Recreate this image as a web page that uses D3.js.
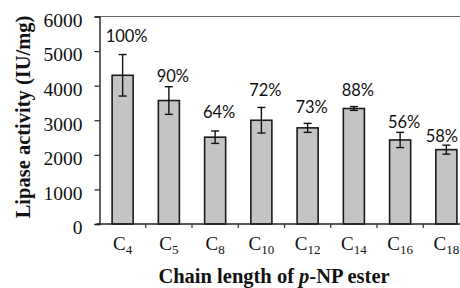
<!DOCTYPE html>
<html>
<head>
<meta charset="utf-8">
<script src="https://cdn.jsdelivr.net/npm/d3@7"></script>
<style>
  body { margin: 0; background: #fff; overflow: hidden; }
  svg { display: block; }
</style>
</head>
<body>
<div id="chart"></div>
<script>
// chain lengths of p-NP esters (carbon count for subscript)
const chains = ["4", "5", "8", "10", "12", "14", "16", "18"];
// lipase activity (IU/mg) and error
const activity = [4300, 3570, 2510, 3000, 2780, 3340, 2430, 2150];
const errors = [600, 400, 180, 370, 130, 55, 220, 130];
// relative activity labels and the level (IU/mg) they sit at
const relLabels = ["100%", "90%", "64%", "72%", "73%", "88%", "56%", "58%"];
const relLabelAt = [5260, 4110, 3060, 3710, 3200, 3690, 2770, 2370];
const yTicks = [0, 1000, 2000, 3000, 4000, 5000, 6000];

let W = 460, H = 288;
let margin = {top: 16.5, left: 99.5};
let plotW = 370, plotH = 207.5;

const svg = d3.select("#chart").append("svg")
    .attr("width", W)
    .attr("height", H);

const g = svg.append("g")
    .attr("transform", "translate(" + margin.left + "," + margin.top + ")");

// x: one band per chain length
let x = d3.scaleBand()
    .domain(chains)
    .range([0, plotW])
    .paddingInner(0.545)
    .paddingOuter(0.2725);

let y = d3.scaleLinear()
    .domain([0, 6000])
    .range([plotH, 0]);

// plot frame (top / right), grey
g.append("path")
    .attr("d", "M0,0H" + plotW + "V" + plotH)
    .attr("fill", "none")
    .attr("stroke", "#6a6a6a")
    .attr("stroke-width", 1.2);

// bars
g.selectAll(".bar")
    .data(activity)
    .enter().append("rect")
    .attr("class", "bar")
    .attr("x", (d, i) => x(chains[i]))
    .attr("y", d => y(d))
    .attr("width", x.bandwidth())
    .attr("height", d => y(0) - y(d))
    .attr("fill", "#c4c4c4")
    .attr("stroke", "#1a1a1a")
    .attr("stroke-width", 1.6);

// error bars
const capW = 4;
const eb = g.selectAll(".err")
    .data(activity)
    .enter().append("g")
    .attr("class", "err")
    .attr("stroke", "#111")
    .attr("stroke-width", 1.4);

eb.append("line")
    .attr("x1", (d, i) => x(chains[i]) + x.bandwidth() / 2)
    .attr("x2", (d, i) => x(chains[i]) + x.bandwidth() / 2)
    .attr("y1", (d, i) => y(d + errors[i]))
    .attr("y2", (d, i) => y(d - errors[i]));

eb.append("line")
    .attr("x1", (d, i) => x(chains[i]) + x.bandwidth() / 2 - capW)
    .attr("x2", (d, i) => x(chains[i]) + x.bandwidth() / 2 + capW)
    .attr("y1", (d, i) => y(d + errors[i]))
    .attr("y2", (d, i) => y(d + errors[i]));

eb.append("line")
    .attr("x1", (d, i) => x(chains[i]) + x.bandwidth() / 2 - capW)
    .attr("x2", (d, i) => x(chains[i]) + x.bandwidth() / 2 + capW)
    .attr("y1", (d, i) => y(d - errors[i]))
    .attr("y2", (d, i) => y(d - errors[i]));

// percentage labels (kept inside the visible window)
g.selectAll(".rel")
    .data(relLabels)
    .enter().append("text")
    .attr("class", "rel")
    .attr("y", (d, i) => y(relLabelAt[i]))
    .attr("text-anchor", "middle")
    .attr("font-family", "Lato, 'Open Sans', sans-serif")
    .attr("font-size", 16.5)
    .attr("fill", "#111")
    .text(d => d)
    .attr("x", function(d, i) {
      let cx = x(chains[i]) + x.bandwidth() / 2 + 4;
      let half = this.getComputedTextLength() / 2;
      return Math.min(cx, W - margin.left - half - 2);
    });

// y axis
const yAxis = g.append("g")
    .call(d3.axisLeft(y).tickValues(yTicks).tickSize(5).tickPadding(12).tickFormat(d3.format("d")));
yAxis.select(".domain").attr("stroke", "#222").attr("stroke-width", 1.4);
yAxis.selectAll(".tick line").attr("stroke", "#222").attr("stroke-width", 1.2);
yAxis.selectAll(".tick text")
    .attr("font-family", "'Liberation Serif', 'Times New Roman', serif")
    .attr("font-size", 19.5)
    .attr("fill", "#111")
    .attr("dy", "0.5em");

// x axis baseline + ticks between categories
const bounds = chains.slice(1).map(c => x(c) - x.step() * x.paddingInner() / 2);
g.append("line")
    .attr("x1", -3).attr("x2", plotW)
    .attr("y1", plotH).attr("y2", plotH)
    .attr("stroke", "#222")
    .attr("stroke-width", 1.4);
g.selectAll(".xtick")
    .data(bounds)
    .enter().append("line")
    .attr("class", "xtick")
    .attr("x1", d => d).attr("x2", d => d)
    .attr("y1", plotH).attr("y2", plotH + 4)
    .attr("stroke", "#333")
    .attr("stroke-width", 1.2);

// category labels C with subscript
const cl = g.selectAll(".cat")
    .data(chains)
    .enter().append("text")
    .attr("class", "cat")
    .attr("x", d => x(d) + x.bandwidth() / 2)
    .attr("y", plotH + 26)
    .attr("text-anchor", "middle")
    .attr("font-family", "'Liberation Serif', 'Times New Roman', serif")
    .attr("font-size", 19)
    .attr("fill", "#111");
cl.append("tspan").text("C");
cl.append("tspan")
    .attr("font-size", 13)
    .attr("dy", 4)
    .text(d => d);

// axis titles
svg.append("text")
    .attr("x", 274)
    .attr("y", 283)
    .attr("text-anchor", "middle")
    .attr("font-family", "'Liberation Serif', 'Times New Roman', serif")
    .attr("font-weight", "bold")
    .attr("font-size", 20.5)
    .attr("fill", "#111")
    .call(t => {
      t.append("tspan").text("Chain length of ");
      t.append("tspan").attr("font-style", "italic").text("p");
      t.append("tspan").text("-NP ester");
    });

svg.append("text")
    .attr("transform", "translate(30,117)rotate(-90)")
    .attr("text-anchor", "middle")
    .attr("font-family", "'Liberation Serif', 'Times New Roman', serif")
    .attr("font-weight", "bold")
    .attr("font-size", 20.5)
    .attr("fill", "#111")
    .text("Lipase activity (IU/mg)");
</script>
</body>
</html>
